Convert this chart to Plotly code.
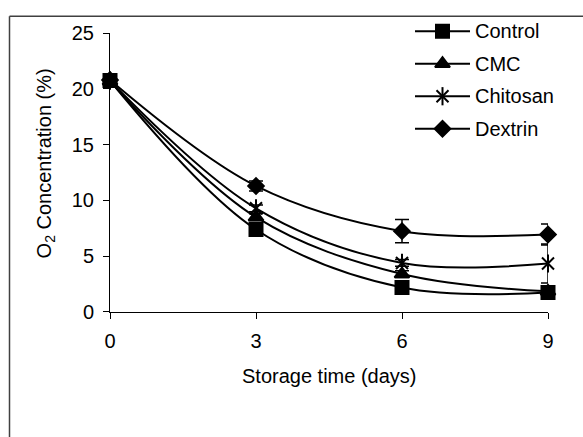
import plotly.graph_objects as go

# ---- data ----
days = [0, 3, 6, 9]
series_names = ["Control", "CMC", "Chitosan", "Dextrin"]
control = [20.75, 7.4, 2.2, 1.75]
cmc = [20.7, 8.5, 3.4, 1.85]
chitosan = [20.75, 9.3, 4.4, 4.35]
dextrin = [20.8, 11.3, 7.25, 6.95]
control_err = [0.2, 0.3, 0.3, 0.2]
cmc_err = [0.2, 0.3, 0.3, 0.2]
chitosan_err = [0.2, 0.3, 0.3, 1.75]
dextrin_err = [0.2, 0.45, 1.05, 0.95]
x_ticks = [0, 3, 6, 9]
y_ticks = [0, 5, 10, 15, 20, 25]

W, H = 583, 437
L, R, T, B = 110, 35, 0, 125
PW = W - L - R
PH = H - T - B

def px(x):
    return (x - L) / PW

def py(y):
    return (H - B - y) / PH

FONT = "Liberation Sans, Arial, sans-serif"
FS = 20
BLACK = "#000000"

fig = go.Figure()

styles = {
    "Control": dict(symbol="square", size=13),
    "CMC": dict(symbol="triangle-up", size=13),
    "Chitosan": dict(symbol="x-thin-open", size=12),
    "Dextrin": dict(symbol="diamond", size=12),
}
vals = {"Control": control, "CMC": cmc, "Chitosan": chitosan, "Dextrin": dextrin}
errs = {"Control": control_err, "CMC": cmc_err, "Chitosan": chitosan_err, "Dextrin": dextrin_err}

for name in ["Dextrin", "Chitosan", "CMC", "Control"]:
    st = styles[name]
    fig.add_trace(go.Scatter(
        x=days, y=vals[name], mode="lines+markers", name=name,
        line=dict(color=BLACK, width=2, shape="spline", smoothing=1.0),
        marker=dict(symbol=st["symbol"], size=st["size"], color=BLACK,
                    line=dict(color=BLACK, width=2)),
        error_y=dict(type="data", array=errs[name], color=BLACK, thickness=1.5, width=7),
        cliponaxis=False, showlegend=False, xaxis="x", yaxis="y",
    ))
    if name == "Chitosan":
        fig.add_trace(go.Scatter(
            x=days, y=vals[name], mode="markers",
            marker=dict(symbol="line-ns-open", size=13, color=BLACK,
                        line=dict(color=BLACK, width=2)),
            cliponaxis=False, showlegend=False, hoverinfo="skip",
        ))

# ---- manual legend in an inset axis ----
for i, name in enumerate(series_names):
    st = styles[name]
    fig.add_trace(go.Scatter(
        x=[0, 1], y=[i, i], mode="lines", line=dict(color=BLACK, width=2),
        xaxis="x2", yaxis="y2", showlegend=False, hoverinfo="skip", cliponaxis=False,
    ))
    fig.add_trace(go.Scatter(
        x=[0.5], y=[i], mode="markers",
        marker=dict(symbol=st["symbol"], size=st["size"], color=BLACK,
                    line=dict(color=BLACK, width=2)),
        xaxis="x2", yaxis="y2", showlegend=False, hoverinfo="skip", cliponaxis=False,
    ))
    if name == "Chitosan":
        fig.add_trace(go.Scatter(
            x=[0.5], y=[i], mode="markers",
            marker=dict(symbol="line-ns-open", size=13, color=BLACK,
                        line=dict(color=BLACK, width=2)),
            xaxis="x2", yaxis="y2", showlegend=False, hoverinfo="skip", cliponaxis=False,
        ))

annotations = []
for i, name in enumerate(series_names):
    annotations.append(dict(
        x=px(473), y=i, xref="paper", yref="y2", text=name, showarrow=False,
        xanchor="left", yanchor="middle", font=dict(family=FONT, size=FS, color=BLACK),
    ))

annotations.append(dict(
    x=px(45), y=py(158), xref="paper", yref="paper",
    text="O<sub>2</sub> Concentration (%)", showarrow=False, textangle=-90,
    xanchor="center", yanchor="middle", font=dict(family=FONT, size=FS, color=BLACK),
))
annotations.append(dict(
    x=px(329), y=py(378), xref="paper", yref="paper",
    text="Storage time (days)", showarrow=False,
    xanchor="center", yanchor="middle", font=dict(family=FONT, size=FS, color=BLACK),
))

shapes = [
    dict(type="line", xref="paper", yref="paper", x0=px(9.5), x1=px(600), y0=py(5.5), y1=py(5.5),
         line=dict(color="#404040", width=1.5)),
    dict(type="line", xref="paper", yref="paper", x0=px(9.5), x1=px(9.5), y0=py(5.5), y1=py(460),
         line=dict(color="#404040", width=1.5)),
]

row_px = 21
row_gap = 33.67
y2_top_px, y2_bot_px = 5, 138

fig.update_layout(
    width=W, height=H,
    margin=dict(l=L, r=R, t=T, b=B, pad=0),
    paper_bgcolor="white", plot_bgcolor="white",
    font=dict(family=FONT, size=FS, color=BLACK),
    showlegend=False,
    xaxis=dict(
        range=[0, 9], tickvals=x_ticks, ticktext=[str(v) for v in x_ticks],
        showgrid=False, zeroline=False, showline=True, linecolor=BLACK, linewidth=1,
        ticks="outside", ticklen=6, tickcolor=BLACK, tickwidth=1, ticklabelstandoff=5,
        tickfont=dict(family=FONT, size=FS, color=BLACK), anchor="y",
    ),
    yaxis=dict(
        range=[0, 25], tickvals=y_ticks, ticktext=[str(v) for v in y_ticks],
        domain=[0, py(23)],
        showgrid=False, zeroline=False, showline=True, linecolor=BLACK, linewidth=1,
        ticks="outside", ticklen=6, tickcolor=BLACK, tickwidth=1, ticklabelstandoff=5,
        tickfont=dict(family=FONT, size=FS, color=BLACK), anchor="x",
    ),
    xaxis2=dict(domain=[px(415), px(470)], range=[0, 1], visible=False, anchor="y2"),
    yaxis2=dict(domain=[py(y2_bot_px), py(y2_top_px)],
                range=[(y2_bot_px - row_px) / row_gap, (y2_top_px - row_px) / row_gap],
                visible=False, anchor="x2"),
    annotations=annotations,
    shapes=shapes,
)

fig.write_html("out.html")
